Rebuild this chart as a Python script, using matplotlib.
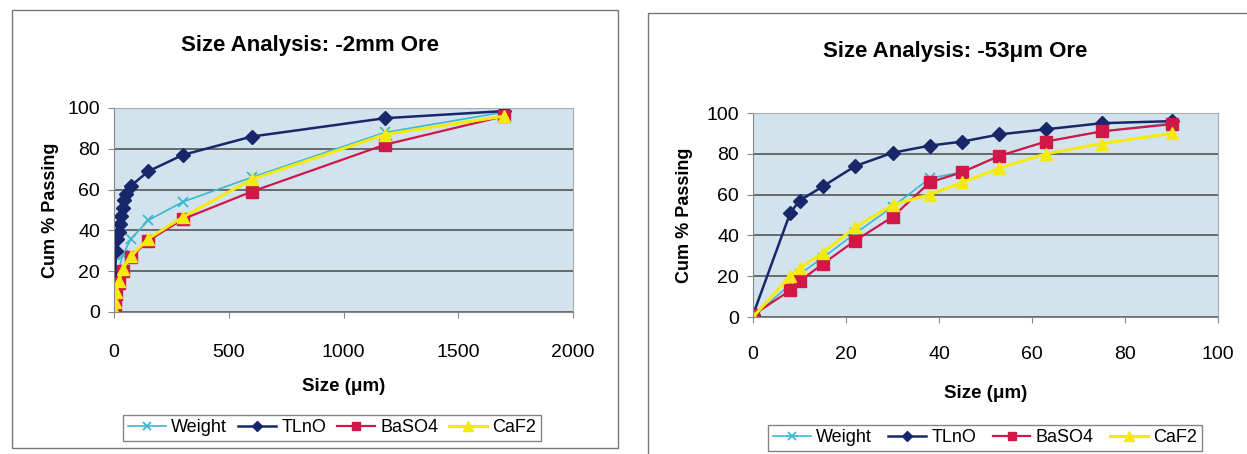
import numpy as np
import matplotlib
matplotlib.use('Agg')
import matplotlib.pyplot as plt
from matplotlib.patches import Rectangle

plt.rcParams['font.family'] = ['Liberation Sans', 'DejaVu Sans']

# -2mm ore (size in micron, cum % passing)
ore2_tlno_x = [1700, 1180, 600, 300, 150, 75, 53, 45, 38, 30, 25, 20, 15, 10, 5]
ore2_tlno_y = [98.5, 95, 86, 77, 69, 62, 58, 55, 51, 47, 43, 39, 36, 30, 20]
ore2_x = [1700, 1180, 600, 300, 150, 75, 38, 20, 10, 5, 2]
ore2_weight = [98, 88, 66, 54, 45, 36, 28, 20, 14, 8, 2]
ore2_baso4 = [96, 82, 59, 45.5, 35, 27, 20, 14, 9, 4, 1]
ore2_caf2 = [96, 87, 65, 46.5, 36, 27.5, 21, 15, 10, 5, 1]

# -53um ore
ore53_x = [0, 8, 10, 15, 22, 30, 38, 45, 53, 63, 75, 90]
ore53_weight = [0, 16, 21, 29, 41, 54, 68, 71, 79, 86, 91, 95]
ore53_tlno = [1, 51, 57, 64, 74, 80.5, 84, 86, 89.5, 92, 95, 96]
ore53_baso4 = [1, 13, 17.5, 26, 37.5, 49, 66, 71, 79, 86, 91, 94.5]
ore53_caf2 = [0, 20, 24, 31.5, 44, 55, 60, 66, 73, 80, 85, 90]

W, H = 1247, 454
fig = plt.figure(figsize=(W / 100, H / 100), dpi=100)


def px_rect(x0, y0, x1, y1):
    return [x0 / W, 1 - y1 / H, (x1 - x0) / W, (y1 - y0) / H]


# chart borders
for x0, y0, x1, y1 in [(12, 10, 618, 448), (648, 13, 1260, 470)]:
    fig.patches.append(Rectangle((x0 / W, 1 - y1 / H), (x1 - x0) / W, (y1 - y0) / H,
                                 transform=fig.transFigure, fill=False,
                                 edgecolor='#777777', lw=1.0))

styles = {
    'Weight': dict(color='#3cb8d0', marker='x', ms=7, mew=1.3, lw=1.2),
    'TLnO': dict(color='#18266a', marker='D', ms=7, lw=1.8),
    'BaSO4': dict(color='#d01848', marker='s', ms=8, lw=1.6),
    'CaF2': dict(color='#f5ea10', marker='^', ms=9, lw=2.2),
}


def setup(ax, xmax, xstep, ypad, xpad, tickpad):
    ax.set_facecolor('#d3e3ed')
    ax.set_xlim(0, xmax)
    ax.set_ylim(0, 100)
    ax.set_xticks(np.arange(0, xmax + 1, xstep))
    ax.set_yticks(np.arange(0, 101, 20))
    ax.grid(axis='y', color='#555555', lw=1.2)
    ax.set_axisbelow(True)
    for s in ['top', 'right']:
        ax.spines[s].set_color('#aaaaaa')
    for s in ['left', 'bottom']:
        ax.spines[s].set_color('#888888')
    ax.tick_params(labelsize=14, length=4, color='#888888', pad=6)
    ax.tick_params(axis='x', pad=tickpad)
    ax.set_ylabel('Cum % Passing', fontsize=13, fontweight='bold', labelpad=ypad)
    ax.set_xlabel('Size (μm)', fontsize=13.5, fontweight='bold', labelpad=xpad)


ax1 = fig.add_axes(px_rect(114, 108, 573, 312))
setup(ax1, 2000, 500, ypad=6, xpad=12, tickpad=19)
ax1.plot(ore2_x, ore2_weight, label='Weight', **styles['Weight'])
ax1.plot(ore2_tlno_x, ore2_tlno_y, label='TLnO', **styles['TLnO'])
ax1.plot(ore2_x, ore2_baso4, label='BaSO4', **styles['BaSO4'])
ax1.plot(ore2_x, ore2_caf2, label='CaF2', **styles['CaF2'])
fig.text(310 / W, 1 - 45 / H, 'Size Analysis: -2mm Ore', fontsize=16,
         fontweight='bold', ha='center', va='center')

ax2 = fig.add_axes(px_rect(753, 113, 1218, 317))
setup(ax2, 100, 20, ypad=10, xpad=16, tickpad=17)
ax2.plot(ore53_x, ore53_weight, label='Weight', **styles['Weight'])
ax2.plot(ore53_x, ore53_tlno, label='TLnO', **styles['TLnO'])
ax2.plot(ore53_x, ore53_baso4, label='BaSO4', **styles['BaSO4'])
ax2.plot(ore53_x, ore53_caf2, label='CaF2', **styles['CaF2'])
fig.text(955 / W, 1 - 52 / H, 'Size Analysis: -53μm Ore', fontsize=16,
         fontweight='bold', ha='center', va='center')

for ax, cx, cy, cs in [(ax1, 332, 428, 0.6), (ax2, 985, 438, 0.9)]:
    leg = ax.legend(loc='center', bbox_to_anchor=(cx / W, 1 - cy / H),
                    bbox_transform=fig.transFigure, ncol=4, fontsize=13,
                    frameon=True, fancybox=False, edgecolor='#666666',
                    handlelength=2.1, columnspacing=cs, handletextpad=0.3,
                    borderpad=0.25, borderaxespad=0, markerscale=0.8)
    leg.get_frame().set_linewidth(1.0)

fig.savefig('out.png', dpi=100)
